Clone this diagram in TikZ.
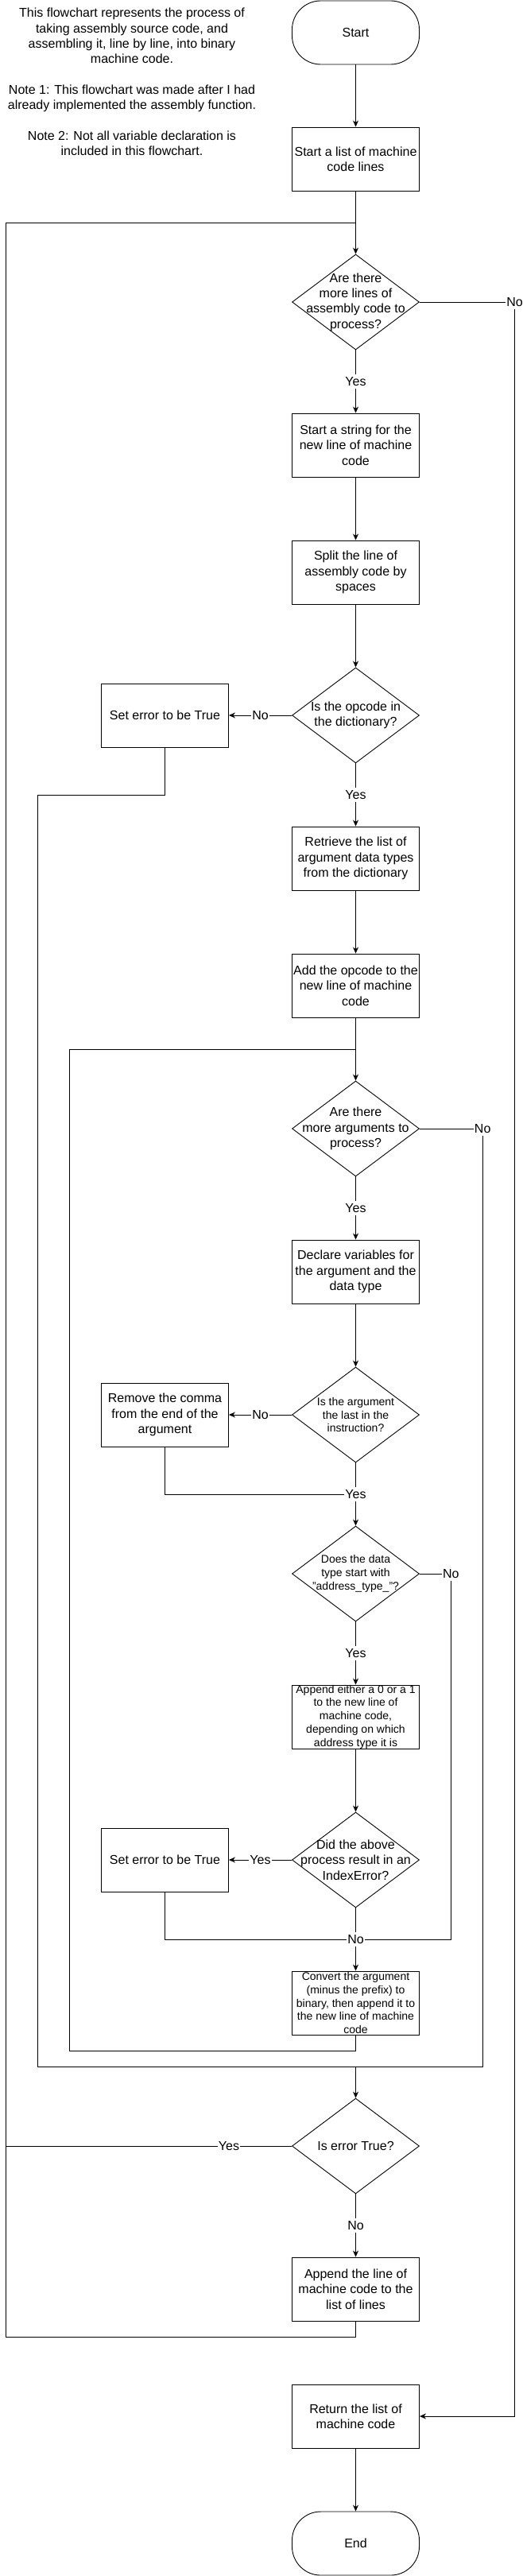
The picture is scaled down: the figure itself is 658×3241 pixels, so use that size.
\documentclass[tikz,border=0pt]{standalone}
\usepackage{fontspec}
\setmainfont{Liberation Sans}
\usetikzlibrary{shapes, arrows.meta, positioning, calc}

\newcommand{\bigtxt}{\fontsize{16}{19.3}\selectfont}
\newcommand{\smalltxt}{\fontsize{14}{16.8}\selectfont}

\begin{document}
\begin{tikzpicture}[x=1pt, y=-1pt, line width=0.9pt,
  procbox/.style={draw, rectangle, minimum width=160pt, minimum height=80pt, inner sep=0pt, align=center, font=\bigtxt},
  termbox/.style={procbox, rounded corners=36pt},
  decision/.style={draw, diamond, minimum width=160pt, minimum height=120pt, inner sep=0pt},
  dtext/.style={align=center, font=\bigtxt, inner sep=0pt},
  stext/.style={align=center, font=\smalltxt, inner sep=0pt},
  lbl/.style={fill=white, font=\bigtxt, inner xsep=1pt, inner ysep=3pt},
  arr/.style={-{Stealth[length=8pt, width=7pt]}}]

\useasboundingbox (0,0) rectangle (658,3241);

% note at the top left
\node[align=center, font=\bigtxt] (intro) at (166,103) {This flowchart represents the process of\\taking assembly source code, and\\assembling it, line by line, into binary\\machine code.\\[19.3pt]Note 1: This flowchart was made after I had\\already implemented the assembly function.\\[19.3pt]Note 2: Not all variable declaration is\\included in this flowchart.};

% main column
\node[termbox] (start) at (447.5,41) {Start};
\node[procbox] (list) at (447.5,200) {Start a list of machine\\code lines};
\coordinate (outerjoin) at (447.5,280);
\node[decision, label={[dtext]center:{Are there\\more lines of\\assembly code to\\process?}}] (morelines) at (447.5,380) {};
\node[procbox] (newstr) at (447.5,560) {Start a string for the\\new line of machine\\code};
\node[procbox] (split) at (447.5,720) {Split the line of\\assembly code by\\spaces};
\node[decision, label={[dtext]center:{Is the opcode in\\the dictionary?}}] (indict) at (447.5,900) {};
\node[procbox] (err1) at (207.5,900) {Set error to be True};
\node[procbox] (fetch) at (447.5,1080) {Retrieve the list of\\argument data types\\from the dictionary};
\node[procbox] (addop) at (447.5,1240) {Add the opcode to the\\new line of machine\\code};
\coordinate (innerjoin) at (447.5,1320);
\node[decision, label={[dtext]center:{Are there\\more arguments to\\process?}}] (moreargs) at (447.5,1420) {};
\node[procbox] (declare) at (447.5,1600) {Declare variables for\\the argument and the\\data type};
\node[decision, label={[stext]center:{Is the argument\\the last in the\\instruction?}}] (islast) at (447.5,1780) {};
\node[procbox] (comma) at (207.5,1780) {Remove the comma\\from the end of the\\argument};
\coordinate (commajoin) at (447.5,1880);
\node[decision, label={[stext]center:{Does the data\\type start with\\"address\_type\_"?}}] (isaddr) at (447.5,1980) {};
\node[procbox, label={[stext]center:{Append either a 0 or a 1\\to the new line of\\machine code,\\depending on which\\address type it is}}] (appbit) at (447.5,2160) {};
\node[decision, label={[dtext]center:{Did the above\\process result in an\\IndexError?}}] (idxerr) at (447.5,2340) {};
\node[procbox] (err2) at (207.5,2340) {Set error to be True};
\coordinate (idxjoin) at (447.5,2440);
\node[procbox, label={[stext]center:{Convert the argument\\(minus the prefix) to\\binary, then append it to\\the new line of machine\\code}}] (convert) at (447.5,2520) {};
\coordinate (midjoin) at (447.5,2600);
\node[decision, label={[dtext]center:{Is error True?}}] (iserr) at (447.5,2700) {};
\node[procbox] (appline) at (447.5,2880) {Append the line of\\machine code to the\\list of lines};
\node[procbox] (ret) at (447.5,3040) {Return the list of\\machine code};
\node[termbox] (finish) at (447.5,3200) {End};

% corners of the loop lines
\coordinate (outerbot) at (7.5,2940);
\coordinate (midleft) at (47.4,1000);
\coordinate (midleftbot) at (47.4,2600);
\coordinate (midright) at (607.2,2600);
\coordinate (innerbot) at (87.3,2580);
\coordinate (addrright) at (567.4,2440);
\coordinate (doneright) at (647.5,3040);

% loops and merging lines
\draw (appline.south) |- (outerbot) |- (outerjoin);
\draw (convert.south) |- (innerbot) |- (innerjoin);
\draw (err1.south) |- (midleft) -- (midleftbot) -- (midjoin);
\draw (moreargs.east) -| node[lbl, pos=0.5] {No} (midright) -- (midjoin);
\draw (isaddr.east) -| node[lbl, pos=0.5] {No} (addrright) -- (idxjoin);
\draw (err2.south) |- (idxjoin);
\draw (comma.south) |- (commajoin);
\draw[arr] (morelines.east) -| node[lbl, pos=0.5] {No} (doneright) -- (ret.east);

% arrows down the main column
\draw[arr] (start) -- (list);
\draw[arr] (list) -- (morelines);
\draw[arr] (morelines) -- node[lbl] {Yes} (newstr);
\draw[arr] (newstr) -- (split);
\draw[arr] (split) -- (indict);
\draw[arr] (indict) -- node[lbl] {No} (err1);
\draw[arr] (indict) -- node[lbl] {Yes} (fetch);
\draw[arr] (fetch) -- (addop);
\draw[arr] (addop) -- (moreargs);
\draw[arr] (moreargs) -- node[lbl] {Yes} (declare);
\draw[arr] (declare) -- (islast);
\draw[arr] (islast) -- node[lbl] {No} (comma);
\draw[arr] (islast) -- node[lbl] {Yes} (isaddr);
\draw[arr] (isaddr) -- node[lbl] {Yes} (appbit);
\draw[arr] (appbit) -- (idxerr);
\draw[arr] (idxerr) -- node[lbl] {Yes} (err2);
\draw[arr] (idxerr) -- node[lbl] {No} (convert);
\draw[arr] (midjoin) -- (iserr);
\draw (iserr.west) -- node[lbl, pos=0.22] {Yes} (iserr.west -| outerbot);
\draw[arr] (iserr) -- node[lbl] {No} (appline);
\draw[arr] (ret) -- (finish);

\end{tikzpicture}
\end{document}
